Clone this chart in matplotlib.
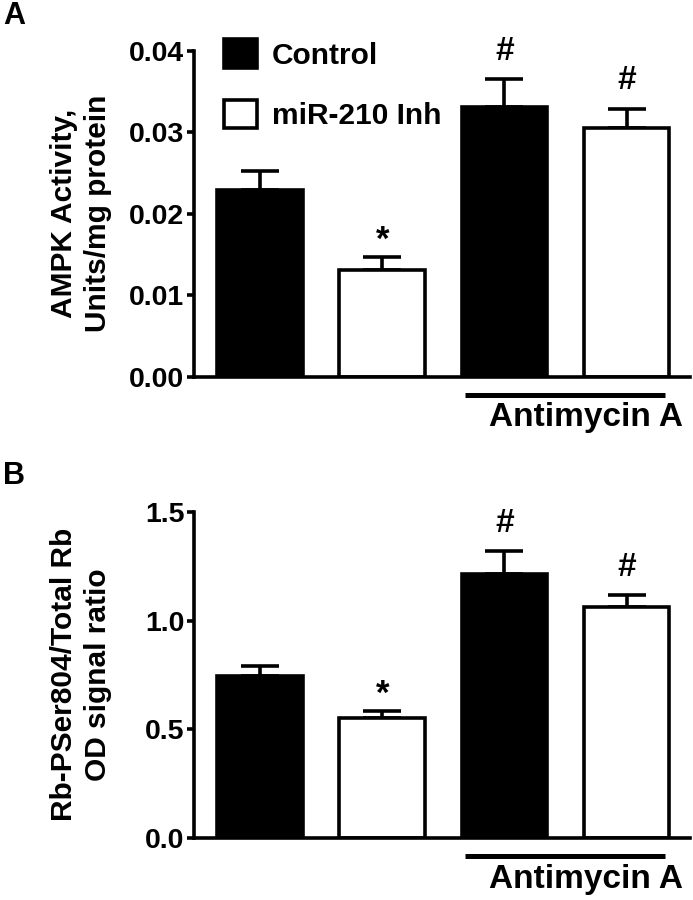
import numpy as np
import matplotlib
matplotlib.use('Agg')
import matplotlib.pyplot as plt
from matplotlib.patches import Patch

plt.rcParams['font.family'] = ['Liberation Sans', 'DejaVu Sans']
plt.rcParams['font.weight'] = 'bold'

# Datos
grupos = ['Control', 'miR-210 Inh', 'Control', 'miR-210 Inh']
colores = ['black', 'white', 'black', 'white']
ampk_media = [0.0229, 0.0131, 0.0331, 0.0305]
ampk_err = [0.0023, 0.0016, 0.0034, 0.0024]
ampk_marca = ['', '*', '#', '#']
rb_media = [0.746, 0.551, 1.212, 1.062]
rb_err = [0.043, 0.031, 0.108, 0.055]
rb_marca = ['', '*', '#', '#']

x = np.arange(4)
lw = 2.6

fig = plt.figure(figsize=(6.93, 9), dpi=100)
axA = fig.add_axes([0.280, 0.5815, 0.716, 0.362])
axB = fig.add_axes([0.280, 0.0692, 0.716, 0.362])


def panel(ax, media, err, marca, ylim, yticks, fmt, ylabel):
    ax.bar(x, media, width=0.70, color=colores, edgecolor='black', linewidth=lw, zorder=2)
    ax.errorbar(x, media, yerr=[np.zeros(4), err], fmt='none', ecolor='black',
                elinewidth=lw, capsize=14, capthick=lw, zorder=1)
    for xi, m, e, s in zip(x, media, err, marca):
        if s == '#':
            ax.text(xi, m + e + ylim[1] * 0.038, s, ha='center', va='bottom',
                    fontsize=24, fontweight='bold')
        elif s == '*':
            ax.text(xi, m + e, s, ha='center', va='bottom',
                    fontsize=25, fontweight='bold')
    ax.set_xlim(-0.54, 3.52)
    ax.set_ylim(*ylim)
    ax.set_yticks(yticks)
    ax.set_yticklabels([fmt.format(v) for v in yticks], fontsize=20.5, fontweight='bold')
    ax.set_xticks([])
    ax.spines['top'].set_visible(False)
    ax.spines['right'].set_visible(False)
    ax.spines['left'].set_linewidth(lw)
    ax.spines['bottom'].set_linewidth(lw)
    ax.tick_params(axis='y', length=5, width=lw, pad=2)
    ax.set_ylabel(ylabel, fontsize=21.5, fontweight='bold', linespacing=1.25)
    ax.yaxis.set_label_coords(-0.166, 0.5)
    # linea de Antimycin A
    ax.plot([1.68, 3.31], [-0.057, -0.057], transform=ax.get_xaxis_transform(),
            color='black', lw=3.6, clip_on=False, solid_capstyle='butt')
    ax.text(3.46, -0.153, 'Antimycin A', transform=ax.get_xaxis_transform(),
            ha='right', va='baseline', fontsize=24, fontweight='bold', clip_on=False)


panel(axA, ampk_media, ampk_err, ampk_marca, (0, 0.04), [0, 0.01, 0.02, 0.03, 0.04],
      '{:.2f}', 'AMPK Activity,\nUnits/mg protein')
panel(axB, rb_media, rb_err, rb_marca, (0, 1.5), [0, 0.5, 1.0, 1.5],
      '{:.1f}', 'Rb-PSer804/Total Rb\nOD signal ratio')

# leyenda
handles = [Patch(facecolor='black', edgecolor='black', linewidth=lw),
           Patch(facecolor='white', edgecolor='black', linewidth=lw)]
axA.legend(handles, ['Control', 'miR-210 Inh'], loc='upper left',
           bbox_to_anchor=(0.06, 1.035), frameon=False, fontsize=21.5,
           borderpad=0, borderaxespad=0,
           handlelength=1.1, handleheight=1.1, handletextpad=0.5, labelspacing=1.0)

fig.text(0.005, 0.982, 'A', fontsize=22, fontweight='bold', va='center')
fig.text(0.005, 0.471, 'B', fontsize=22, fontweight='bold', va='center')

fig.savefig('out.png', dpi=100)
